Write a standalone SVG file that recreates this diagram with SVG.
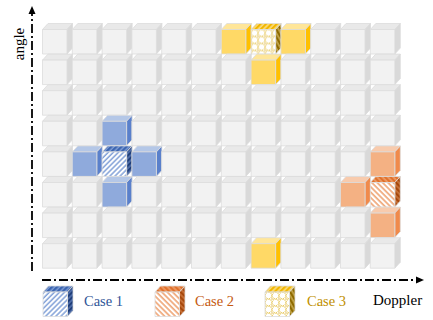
<svg xmlns="http://www.w3.org/2000/svg" xmlns:xlink="http://www.w3.org/1999/xlink" width="433" height="320" viewBox="0 0 433 320">
<style>
.lbl{font-family:"Liberation Serif","Times New Roman",serif;}
.ax{fill:none;stroke:#000;stroke-width:1.8;stroke-dasharray:9 3 2 3;}
.edge{stroke:#DCDCDC;stroke-width:0.8;stroke-linejoin:round;}
</style>
<defs>
  <pattern id="pBlueF" width="3.6" height="3.6" patternUnits="userSpaceOnUse" patternTransform="rotate(45)"><rect width="3.6" height="3.6" fill="#fff"/><line x1="1" y1="0" x2="1" y2="3.6" stroke="#4472C4" stroke-width="1"/></pattern>
  <pattern id="pBlueT" width="3.6" height="3.6" patternUnits="userSpaceOnUse" patternTransform="rotate(45)"><rect width="3.6" height="3.6" fill="#3A64B0"/><line x1="1" y1="0" x2="1" y2="3.6" stroke="#9DB5E3" stroke-width="1"/></pattern>
  <pattern id="pBlueS" width="3.6" height="3.6" patternUnits="userSpaceOnUse" patternTransform="rotate(45)"><rect width="3.6" height="3.6" fill="#203F7A"/><line x1="1" y1="0" x2="1" y2="3.6" stroke="#6F8FCC" stroke-width="1"/></pattern>
  <pattern id="pOrF" width="3.8" height="3.8" patternUnits="userSpaceOnUse" patternTransform="rotate(-45)"><rect width="3.8" height="3.8" fill="#fff"/><line x1="1" y1="0" x2="1" y2="3.8" stroke="#E46C1E" stroke-width="1"/></pattern>
  <pattern id="pOrT" width="3.8" height="3.8" patternUnits="userSpaceOnUse" patternTransform="rotate(-45)"><rect width="3.8" height="3.8" fill="#E0712C"/><line x1="1" y1="0" x2="1" y2="3.8" stroke="#F6B98E" stroke-width="1"/></pattern>
  <pattern id="pOrS" width="3.8" height="3.8" patternUnits="userSpaceOnUse" patternTransform="rotate(-45)"><rect width="3.8" height="3.8" fill="#A7480C"/><line x1="1" y1="0" x2="1" y2="3.8" stroke="#E0915A" stroke-width="1"/></pattern>
  <pattern id="pYeF" width="7" height="7" patternUnits="userSpaceOnUse"><rect width="7" height="7" fill="#fff"/><circle cx="3.5" cy="3.5" r="3.3" fill="none" stroke="#D9A800" stroke-width="0.9" stroke-dasharray="1 0.8"/><circle cx="0" cy="0" r="0.8" fill="#E0B84A"/><circle cx="7" cy="0" r="0.8" fill="#E0B84A"/><circle cx="0" cy="7" r="0.8" fill="#E0B84A"/><circle cx="7" cy="7" r="0.8" fill="#E0B84A"/></pattern>
  <pattern id="pYeT" width="3.8" height="3.8" patternUnits="userSpaceOnUse" patternTransform="rotate(45)"><rect width="3.8" height="3.8" fill="#F2B600"/><line x1="1" y1="0" x2="1" y2="3.8" stroke="#FFF0C0" stroke-width="1.1"/></pattern>
  <pattern id="pYeS" width="3.8" height="3.8" patternUnits="userSpaceOnUse" patternTransform="rotate(-30)"><rect width="3.8" height="3.8" fill="#8E6A00"/><line x1="1" y1="0" x2="1" y2="3.8" stroke="#E8CF80" stroke-width="1"/></pattern>

  <g id="cGray">
    <polygon class="edge" points="0,0 5.5,-6 30,-6 24.5,0" fill="#E9E9E9"/>
    <polygon class="edge" points="24.5,0 30,-6 30,18.5 24.5,24.5" fill="#D9D9D9"/>
    <rect class="edge" x="0" y="0" width="24.5" height="24.5" fill="#F2F2F2"/>
  </g>
  <g id="cBlue">
    <polygon class="edge" points="0,0 5.5,-6 30,-6 24.5,0" fill="#B4C7E7"/>
    <polygon class="edge" points="24.5,0 30,-6 30,18.5 24.5,24.5" fill="#5A80CB"/>
    <rect class="edge" x="0" y="0" width="24.5" height="24.5" fill="#8FAADC"/>
  </g>
  <g id="cBlueH">
    <polygon class="edge" points="0,0 5.5,-6 30,-6 24.5,0" fill="url(#pBlueT)"/>
    <polygon class="edge" points="24.5,0 30,-6 30,18.5 24.5,24.5" fill="url(#pBlueS)"/>
    <rect class="edge" x="0" y="0" width="24.5" height="24.5" fill="url(#pBlueF)"/>
  </g>
  <g id="cOr">
    <polygon class="edge" points="0,0 5.5,-6 30,-6 24.5,0" fill="#F8CBAD"/>
    <polygon class="edge" points="24.5,0 30,-6 30,18.5 24.5,24.5" fill="#F08A4B"/>
    <rect class="edge" x="0" y="0" width="24.5" height="24.5" fill="#F4B183"/>
  </g>
  <g id="cOrH">
    <polygon class="edge" points="0,0 5.5,-6 30,-6 24.5,0" fill="url(#pOrT)"/>
    <polygon class="edge" points="24.5,0 30,-6 30,18.5 24.5,24.5" fill="url(#pOrS)"/>
    <rect class="edge" x="0" y="0" width="24.5" height="24.5" fill="url(#pOrF)"/>
  </g>
  <g id="cYe">
    <polygon class="edge" points="0,0 5.5,-6 30,-6 24.5,0" fill="#FFE699"/>
    <polygon class="edge" points="24.5,0 30,-6 30,18.5 24.5,24.5" fill="#FFC000"/>
    <rect class="edge" x="0" y="0" width="24.5" height="24.5" fill="#FFD966"/>
  </g>
  <g id="cYeH">
    <polygon class="edge" points="0,0 5.5,-6 30,-6 24.5,0" fill="url(#pYeT)"/>
    <polygon class="edge" points="24.5,0 30,-6 30,18.5 24.5,24.5" fill="url(#pYeS)"/>
    <rect class="edge" x="0" y="0" width="24.5" height="24.5" fill="url(#pYeF)"/>
  </g>
  <marker id="arr" markerWidth="8" markerHeight="8" refX="0" refY="4" orient="auto" markerUnits="userSpaceOnUse" viewBox="0 0 8 8"><path d="M0,0.5 L8,4 L0,7.5 Z" fill="#000"/></marker>
</defs>

<rect width="433" height="320" fill="#fff"/>

<g id="cells">
  <!-- row 0 y=29.5 -->
  <g id="r0c0"><use href="#cGray" x="42.5" y="29.5"/></g>
  <g id="r0c1"><use href="#cGray" x="72.3" y="29.5"/></g>
  <g id="r0c2"><use href="#cGray" x="102.1" y="29.5"/></g>
  <g id="r0c3"><use href="#cGray" x="131.9" y="29.5"/></g>
  <g id="r0c4"><use href="#cGray" x="161.7" y="29.5"/></g>
  <g id="r0c5"><use href="#cGray" x="191.5" y="29.5"/></g>
  <g id="r0c6"><use href="#cYe" x="221.3" y="29.5"/></g>
  <g id="r0c7"><use href="#cYeH" x="251.1" y="29.5"/></g>
  <g id="r0c8"><use href="#cYe" x="280.9" y="29.5"/></g>
  <g id="r0c9"><use href="#cGray" x="310.7" y="29.5"/></g>
  <g id="r0c10"><use href="#cGray" x="340.5" y="29.5"/></g>
  <g id="r0c11"><use href="#cGray" x="370.3" y="29.5"/></g>
  <!-- row 1 y=60.1 -->
  <g id="r1c0"><use href="#cGray" x="42.5" y="60.1"/></g>
  <g id="r1c1"><use href="#cGray" x="72.3" y="60.1"/></g>
  <g id="r1c2"><use href="#cGray" x="102.1" y="60.1"/></g>
  <g id="r1c3"><use href="#cGray" x="131.9" y="60.1"/></g>
  <g id="r1c4"><use href="#cGray" x="161.7" y="60.1"/></g>
  <g id="r1c5"><use href="#cGray" x="191.5" y="60.1"/></g>
  <g id="r1c6"><use href="#cGray" x="221.3" y="60.1"/></g>
  <g id="r1c7"><use href="#cYe" x="251.1" y="60.1"/></g>
  <g id="r1c8"><use href="#cGray" x="280.9" y="60.1"/></g>
  <g id="r1c9"><use href="#cGray" x="310.7" y="60.1"/></g>
  <g id="r1c10"><use href="#cGray" x="340.5" y="60.1"/></g>
  <g id="r1c11"><use href="#cGray" x="370.3" y="60.1"/></g>
  <!-- row 2 y=90.7 -->
  <g id="r2c0"><use href="#cGray" x="42.5" y="90.7"/></g>
  <g id="r2c1"><use href="#cGray" x="72.3" y="90.7"/></g>
  <g id="r2c2"><use href="#cGray" x="102.1" y="90.7"/></g>
  <g id="r2c3"><use href="#cGray" x="131.9" y="90.7"/></g>
  <g id="r2c4"><use href="#cGray" x="161.7" y="90.7"/></g>
  <g id="r2c5"><use href="#cGray" x="191.5" y="90.7"/></g>
  <g id="r2c6"><use href="#cGray" x="221.3" y="90.7"/></g>
  <g id="r2c7"><use href="#cGray" x="251.1" y="90.7"/></g>
  <g id="r2c8"><use href="#cGray" x="280.9" y="90.7"/></g>
  <g id="r2c9"><use href="#cGray" x="310.7" y="90.7"/></g>
  <g id="r2c10"><use href="#cGray" x="340.5" y="90.7"/></g>
  <g id="r2c11"><use href="#cGray" x="370.3" y="90.7"/></g>
  <!-- row 3 y=121.3 -->
  <g id="r3c0"><use href="#cGray" x="42.5" y="121.3"/></g>
  <g id="r3c1"><use href="#cGray" x="72.3" y="121.3"/></g>
  <g id="r3c2"><use href="#cBlue" x="102.1" y="121.3"/></g>
  <g id="r3c3"><use href="#cGray" x="131.9" y="121.3"/></g>
  <g id="r3c4"><use href="#cGray" x="161.7" y="121.3"/></g>
  <g id="r3c5"><use href="#cGray" x="191.5" y="121.3"/></g>
  <g id="r3c6"><use href="#cGray" x="221.3" y="121.3"/></g>
  <g id="r3c7"><use href="#cGray" x="251.1" y="121.3"/></g>
  <g id="r3c8"><use href="#cGray" x="280.9" y="121.3"/></g>
  <g id="r3c9"><use href="#cGray" x="310.7" y="121.3"/></g>
  <g id="r3c10"><use href="#cGray" x="340.5" y="121.3"/></g>
  <g id="r3c11"><use href="#cGray" x="370.3" y="121.3"/></g>
  <!-- row 4 y=151.9 -->
  <g id="r4c0"><use href="#cGray" x="42.5" y="151.9"/></g>
  <g id="r4c1"><use href="#cBlue" x="72.3" y="151.9"/></g>
  <g id="r4c2"><use href="#cBlueH" x="102.1" y="151.9"/></g>
  <g id="r4c3"><use href="#cBlue" x="131.9" y="151.9"/></g>
  <g id="r4c4"><use href="#cGray" x="161.7" y="151.9"/></g>
  <g id="r4c5"><use href="#cGray" x="191.5" y="151.9"/></g>
  <g id="r4c6"><use href="#cGray" x="221.3" y="151.9"/></g>
  <g id="r4c7"><use href="#cGray" x="251.1" y="151.9"/></g>
  <g id="r4c8"><use href="#cGray" x="280.9" y="151.9"/></g>
  <g id="r4c9"><use href="#cGray" x="310.7" y="151.9"/></g>
  <g id="r4c10"><use href="#cGray" x="340.5" y="151.9"/></g>
  <g id="r4c11"><use href="#cOr" x="370.3" y="151.9"/></g>
  <!-- row 5 y=182.5 -->
  <g id="r5c0"><use href="#cGray" x="42.5" y="182.5"/></g>
  <g id="r5c1"><use href="#cGray" x="72.3" y="182.5"/></g>
  <g id="r5c2"><use href="#cBlue" x="102.1" y="182.5"/></g>
  <g id="r5c3"><use href="#cGray" x="131.9" y="182.5"/></g>
  <g id="r5c4"><use href="#cGray" x="161.7" y="182.5"/></g>
  <g id="r5c5"><use href="#cGray" x="191.5" y="182.5"/></g>
  <g id="r5c6"><use href="#cGray" x="221.3" y="182.5"/></g>
  <g id="r5c7"><use href="#cGray" x="251.1" y="182.5"/></g>
  <g id="r5c8"><use href="#cGray" x="280.9" y="182.5"/></g>
  <g id="r5c9"><use href="#cGray" x="310.7" y="182.5"/></g>
  <g id="r5c10"><use href="#cOr" x="340.5" y="182.5"/></g>
  <g id="r5c11"><use href="#cOrH" x="370.3" y="182.5"/></g>
  <!-- row 6 y=213.1 -->
  <g id="r6c0"><use href="#cGray" x="42.5" y="213.1"/></g>
  <g id="r6c1"><use href="#cGray" x="72.3" y="213.1"/></g>
  <g id="r6c2"><use href="#cGray" x="102.1" y="213.1"/></g>
  <g id="r6c3"><use href="#cGray" x="131.9" y="213.1"/></g>
  <g id="r6c4"><use href="#cGray" x="161.7" y="213.1"/></g>
  <g id="r6c5"><use href="#cGray" x="191.5" y="213.1"/></g>
  <g id="r6c6"><use href="#cGray" x="221.3" y="213.1"/></g>
  <g id="r6c7"><use href="#cGray" x="251.1" y="213.1"/></g>
  <g id="r6c8"><use href="#cGray" x="280.9" y="213.1"/></g>
  <g id="r6c9"><use href="#cGray" x="310.7" y="213.1"/></g>
  <g id="r6c10"><use href="#cGray" x="340.5" y="213.1"/></g>
  <g id="r6c11"><use href="#cOr" x="370.3" y="213.1"/></g>
  <!-- row 7 y=243.7 -->
  <g id="r7c0"><use href="#cGray" x="42.5" y="243.7"/></g>
  <g id="r7c1"><use href="#cGray" x="72.3" y="243.7"/></g>
  <g id="r7c2"><use href="#cGray" x="102.1" y="243.7"/></g>
  <g id="r7c3"><use href="#cGray" x="131.9" y="243.7"/></g>
  <g id="r7c4"><use href="#cGray" x="161.7" y="243.7"/></g>
  <g id="r7c5"><use href="#cGray" x="191.5" y="243.7"/></g>
  <g id="r7c6"><use href="#cGray" x="221.3" y="243.7"/></g>
  <g id="r7c7"><use href="#cYe" x="251.1" y="243.7"/></g>
  <g id="r7c8"><use href="#cGray" x="280.9" y="243.7"/></g>
  <g id="r7c9"><use href="#cGray" x="310.7" y="243.7"/></g>
  <g id="r7c10"><use href="#cGray" x="340.5" y="243.7"/></g>
  <g id="r7c11"><use href="#cGray" x="370.3" y="243.7"/></g>
</g>

<g id="connectors">
  <line class="ax" x1="32" y1="271" x2="32" y2="14" marker-end="url(#arr)"/>
  <line class="ax" x1="42" y1="280" x2="416" y2="280" marker-end="url(#arr)"/>
</g>

<g id="axis-label-angle"><text class="lbl" transform="translate(24,44) rotate(-90)" text-anchor="middle" font-size="15" fill="#000">angle</text></g>
<g id="axis-label-doppler"><text class="lbl" x="373" y="305" font-size="15" fill="#000">Doppler</text></g>

<g id="legend-case1">
  <use href="#cBlueH" x="43" y="292"/>
  <text class="lbl" x="84" y="306" font-size="14.5" fill="#2F5597">Case 1</text>
</g>
<g id="legend-case2">
  <use href="#cOrH" x="155" y="292"/>
  <text class="lbl" x="195" y="306" font-size="14.5" fill="#C55A11">Case 2</text>
</g>
<g id="legend-case3">
  <use href="#cYeH" x="265" y="292"/>
  <text class="lbl" x="307" y="306" font-size="14.5" fill="#BF9000">Case 3</text>
</g>
</svg>
